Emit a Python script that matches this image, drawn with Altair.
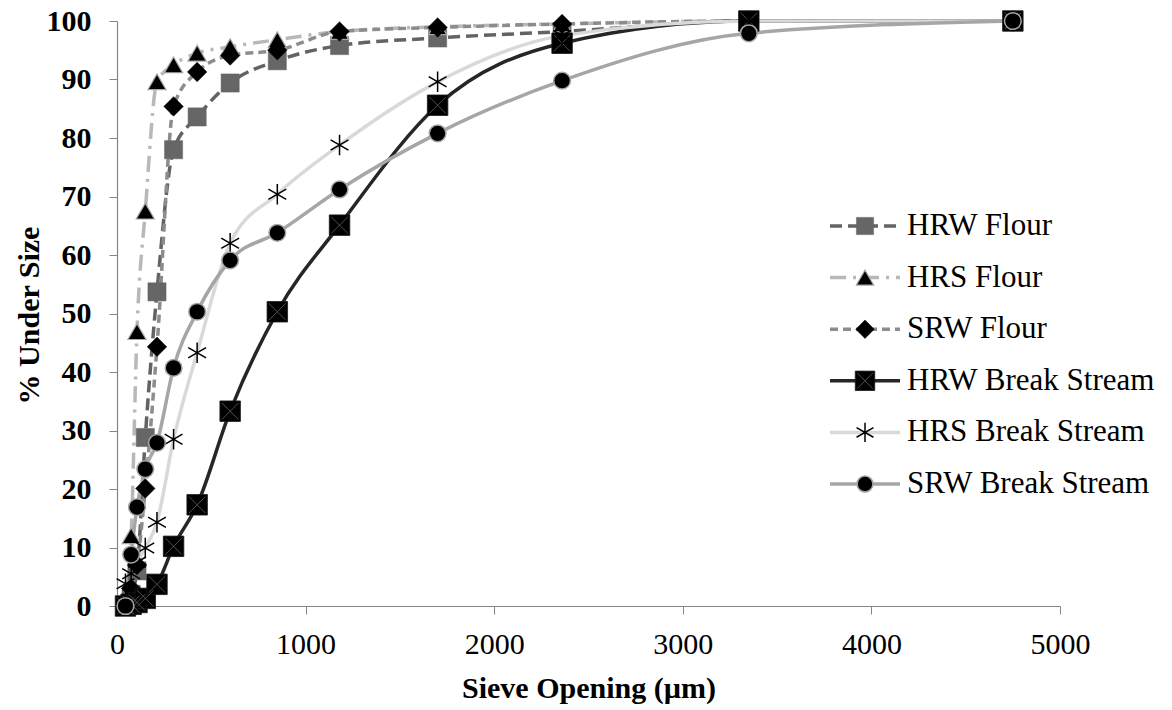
import altair as alt
import pandas as pd

# ---------------- data ----------------
names = ["HRW Flour", "HRS Flour", "SRW Flour",
         "HRW Break Stream", "HRS Break Stream", "SRW Break Stream"]
sieve = [45, 75, 106, 150, 212, 300, 425, 600, 850, 1180, 1700, 2360, 3350, 4750]

hrw_flour = [0, 2, 6, 28.8, 53.7, 78.0, 83.6, 89.4, 93.2, 95.8, 97.1, 98.2, 100, 100]
hrs_flour = [1, 12, 46.9, 67.5, 89.6, 92.5, 94.5, 95.6, 96.8, 98.2, 99.0, 99.5, 100, 100]
srw_flour = [0, 3, 7, 20.1, 44.3, 85.4, 91.3, 94.1, 95.0, 98.2, 98.9, 99.5, 100, 100]
hrw_break = [0, 0.3, 0.6, 1.3, 3.7, 10.2, 17.3, 33.3, 50.3, 65.1, 85.6, 96.2, 100, 100]
hrs_break = [3.8, 5.5, 7.5, 9.9, 14.3, 28.5, 43.3, 62.0, 70.4, 78.8, 89.6, 97.5, 100, 100]
srw_break = [0, 8.8, 16.9, 23.4, 27.9, 40.7, 50.3, 59.1, 63.8, 71.2, 80.8, 89.8, 97.9, 100]

x_ticks = [0, 1000, 2000, 3000, 4000, 5000]
y_ticks = [0, 10, 20, 30, 40, 50, 60, 70, 80, 90, 100]

series_values = [hrw_flour, hrs_flour, srw_flour, hrw_break, hrs_break, srw_break]
rows = []
for name, vals in zip(names, series_values):
    for s, v in zip(sieve, vals):
        rows.append({"series": name, "sieve": s, "pct": v})
df = pd.DataFrame(rows)
legend_df = pd.DataFrame({"series": names})

# ---------------- styles ----------------
ASTERISK = "M0,-1L0,1M-0.87,-0.5L0.87,0.5M-0.87,0.5L0.87,-0.5"
XCROSS = "M-0.85,-0.85L0.85,0.85M-0.85,0.85L0.85,-0.85"
styles = {
    "HRW Flour": dict(color="#636363", dash=[12, 6], shape="square", fill="#666666",
                      stroke="#666666", sw=0.5, size=330, filled=True),
    "HRS Flour": dict(color="#b8b8b8", dash=[16, 7, 3, 7], shape="triangle-up", fill="#000000",
                      stroke="#a6a6a6", sw=1.2, size=330, filled=True),
    "SRW Flour": dict(color="#8c8c8c", dash=[8, 5], shape="diamond", fill="#000000",
                      stroke="#000000", sw=0.5, size=380, filled=True),
    "HRW Break Stream": dict(color="#262626", dash=None, shape="square", fill="#000000",
                             stroke="#1a1a1a", sw=0.8, size=420, filled=True),
    "HRS Break Stream": dict(color="#d9d9d9", dash=None, shape=ASTERISK, fill=None,
                             stroke="#000000", sw=1.5, size=420, filled=False),
    "SRW Break Stream": dict(color="#a6a6a6", dash=None, shape="circle", fill="#000000",
                             stroke="#a6a6a6", sw=1.5, size=280, filled=True),
}

FONT = "Liberation Serif, Times New Roman, serif"

x_scale = alt.Scale(domain=[0, 5000], nice=False, zero=False)
y_scale = alt.Scale(domain=[0, 100], nice=False)

x_enc = alt.X("sieve:Q", scale=x_scale,
              axis=alt.Axis(values=x_ticks, format="d", grid=False, domainColor="#868686",
                            domainWidth=1.2, tickColor="#868686", tickSize=8, labelFont=FONT,
                            labelFontSize=30, labelColor="#000000", labelPadding=15,
                            labelFlush=False,
                            title="Sieve Opening (\u00b5m)", titleFont=FONT, titleFontSize=30,
                            titleFontWeight="bold", titleColor="#000000",
                            titleY=91, titleBaseline="alphabetic"))
y_enc = alt.Y("pct:Q", scale=y_scale,
              axis=alt.Axis(values=y_ticks, grid=False, domainColor="#868686", domainWidth=1.2,
                            tickColor="#868686", tickSize=8, labelFont=FONT, labelFontSize=30,
                            labelFontWeight="bold", labelColor="#000000", labelPadding=18,
                            labelFlush=False,
                            title="% Under Size", titleFont=FONT, titleFontSize=30,
                            titleFontWeight="bold", titleColor="#000000",
                            titleX=-79, titleY=294, titleAngle=270,
                            titleBaseline="alphabetic"))

layers = []
# data lines and markers
for name in names:
    st = styles[name]
    base = alt.Chart(df).transform_filter(alt.datum.series == name)
    line_kw = dict(color=st["color"], strokeWidth=3.5, interpolate="monotone")
    if st["dash"]:
        line_kw["strokeDash"] = st["dash"]
    layers.append(base.mark_line(**line_kw).encode(x=x_enc, y=y_enc))
for name in names:
    st = styles[name]
    base = alt.Chart(df).transform_filter(alt.datum.series == name)
    pt_kw = dict(shape=st["shape"], size=st["size"], stroke=st["stroke"],
                 strokeWidth=st["sw"], opacity=1, filled=st["filled"])
    if st["fill"]:
        pt_kw["fill"] = st["fill"]
    layers.append(base.mark_point(**pt_kw).encode(x=x_enc, y=y_enc))
    if name == "HRW Break Stream":
        layers.append(base.mark_point(shape=XCROSS, size=380, stroke="#505050",
                                      strokeWidth=1, filled=False, opacity=1)
                      .encode(x=x_enc, y=y_enc))

# legend (drawn manually)
LX0, LX1, LXM, LXT = 713, 783, 748, 790
for i, name in enumerate(names):
    st = styles[name]
    yy = 205 + 51.6 * i
    lb = alt.Chart(legend_df).transform_filter(alt.datum.series == name)
    rule_kw = dict(color=st["color"], strokeWidth=3.5)
    if st["dash"]:
        rule_kw["strokeDash"] = st["dash"]
    layers.append(lb.mark_rule(**rule_kw).encode(
        x=alt.value(LX0), x2=alt.value(LX1), y=alt.value(yy)))
    pt_kw = dict(shape=st["shape"], size=st["size"] * 0.9, stroke=st["stroke"],
                 strokeWidth=st["sw"], opacity=1, filled=st["filled"])
    if st["fill"]:
        pt_kw["fill"] = st["fill"]
    layers.append(lb.mark_point(**pt_kw).encode(x=alt.value(LXM), y=alt.value(yy)))
    if name == "HRW Break Stream":
        layers.append(lb.mark_point(shape=XCROSS, size=340, stroke="#505050",
                                    strokeWidth=1, filled=False, opacity=1)
                      .encode(x=alt.value(LXM), y=alt.value(yy)))
    layers.append(lb.mark_text(align="left", baseline="middle", font=FONT, fontSize=31,
                               color="#000000").encode(
        x=alt.value(LXT), y=alt.value(yy), text="series:N"))

chart = alt.layer(*layers).properties(
    width=943, height=585,
    autosize=alt.AutoSizeParams(type="none"),
    padding={"left": 117, "top": 21, "right": 112, "bottom": 104},
    background="#ffffff",
).configure_view(stroke=None)

chart.save("out.html", embed_options={"renderer": "svg", "actions": False})
